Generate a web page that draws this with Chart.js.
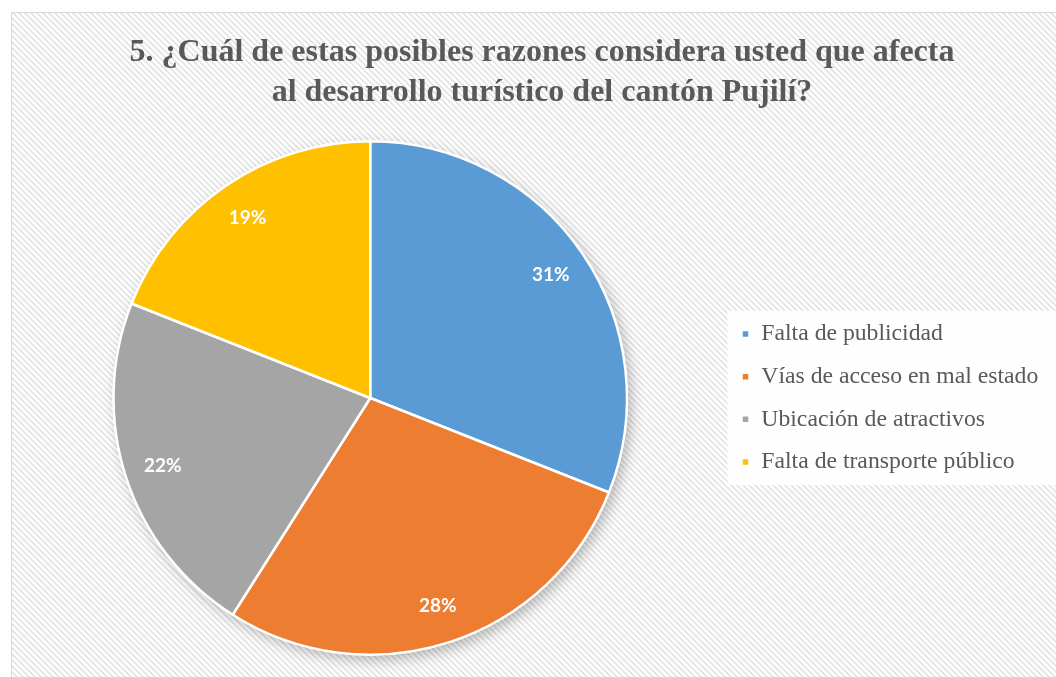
<!DOCTYPE html>
<html>
<head>
<meta charset="utf-8">
<script src="https://cdn.jsdelivr.net/npm/chart.js@4"></script>
<style>
  html, body { margin: 0; padding: 0; overflow: hidden; background: #fff; }
  #wrap { width: 1070px; height: 690px; }
</style>
</head>
<body>
<div id="wrap"><canvas id="pieChart"></canvas></div>
<script>
const categories = ['Falta de publicidad', 'Vías de acceso en mal estado', 'Ubicación de atractivos', 'Falta de transporte público'];
const percentages = [31, 28, 22, 19];
const sliceColors = ['#5B9BD5', '#ED7D31', '#A5A5A5', '#FFC000'];
const titleLines = ['5. ¿Cuál de estas posibles razones considera usted que afecta', 'al desarrollo turístico del cantón Pujilí?'];

function makeHatch(ctx) {
    const tile = document.createElement('canvas');
    tile.width = 6;
    tile.height = 6;
    const t = tile.getContext('2d');
    t.fillStyle = '#ffffff';
    t.fillRect(0, 0, 6, 6);
    t.strokeStyle = '#e3e3e3';
    t.lineWidth = 1.7;
    t.beginPath();
    t.moveTo(-1, -1); t.lineTo(7, 7);
    t.moveTo(-7, -1); t.lineTo(1, 7);
    t.moveTo(5, -1); t.lineTo(13, 7);
    t.stroke();
    return ctx.createPattern(tile, 'repeat');
}

// background hatch, border, legend box, shadow and slice labels
const backgroundPlugin = {
    id: 'backgroundPlugin',
    beforeDraw(chart) {
        const ctx = chart.ctx;
        ctx.save();
        ctx.fillStyle = makeHatch(ctx);
        ctx.fillRect(11, 12, chart.width, chart.height);
        ctx.strokeStyle = '#d9d9d9';
        ctx.lineWidth = 1;
        ctx.strokeRect(11.5, 12.5, chart.width, chart.height);

        const boxes = chart.legend.legendHitBoxes;
        if (boxes && boxes.length) {
            const first = boxes[0];
            const last = boxes[boxes.length - 1];
            const top = first.top - 11;
            const bottom = last.top + last.height + 11;
            ctx.fillStyle = 'rgba(255,255,255,0.92)';
            ctx.fillRect(first.left - 14, top, chart.width, bottom - top);
        }
        ctx.restore();
    },
    beforeDatasetsDraw(chart) {
        const arc = chart.getDatasetMeta(0).data[0];
        if (!arc) return;
        const ctx = chart.ctx;
        ctx.save();
        ctx.shadowColor = 'rgba(0,0,0,0.28)';
        ctx.shadowBlur = 14;
        ctx.shadowOffsetX = 4;
        ctx.shadowOffsetY = 5;
        ctx.fillStyle = '#ffffff';
        ctx.beginPath();
        ctx.arc(arc.x, arc.y, arc.outerRadius, 0, Math.PI * 2);
        ctx.fill();
        ctx.restore();
    },
    afterDatasetsDraw(chart) {
        const ctx = chart.ctx;
        const meta = chart.getDatasetMeta(0);
        ctx.save();
        ctx.fillStyle = '#ffffff';
        ctx.font = 'bold 19px Lato, "Open Sans", sans-serif';
        ctx.textAlign = 'center';
        ctx.textBaseline = 'middle';
        meta.data.forEach((arc, i) => {
            const mid = (arc.startAngle + arc.endAngle) / 2;
            const r = arc.outerRadius * 0.85;
            ctx.fillText(percentages[i] + '%', arc.x + Math.cos(mid) * r, arc.y + Math.sin(mid) * r);
        });
        ctx.restore();
    }
};

const ctx = document.getElementById('pieChart').getContext('2d');
new Chart(ctx, {
    type: 'pie',
    data: {
        labels: categories,
        datasets: [{
            data: percentages,
            backgroundColor: sliceColors,
            borderColor: '#ffffff',
            borderWidth: 2.5,
            hoverOffset: 0
        }]
    },
    options: {
        responsive: true,
        maintainAspectRatio: false,
        animation: false,
        layout: {
            padding: { left: 18, top: 12, right: 4, bottom: 34 }
        },
        plugins: {
            title: {
                display: true,
                text: titleLines,
                color: '#595959',
                font: { family: '"Liberation Serif", "Times New Roman", serif', size: 32, weight: 'bold', lineHeight: 1.25 },
                padding: { top: 21, bottom: 27 }
            },
            legend: {
                display: true,
                position: 'right',
                fullSize: false,
                labels: {
                    boxWidth: 8,
                    boxHeight: 8,
                    padding: 19,
                    color: '#595959',
                    font: { family: '"Liberation Serif", "Times New Roman", serif', size: 23.7 },
                    // trailing spaces keep some room right of the longest entry
                    generateLabels(chart) {
                        const items = Chart.controllers.pie.overrides.plugins.legend.labels.generateLabels(chart);
                        items.forEach(item => { item.text = item.text + '\u00a0\u00a0\u00a0'; });
                        return items;
                    }
                }
            },
            tooltip: { enabled: false }
        }
    },
    plugins: [backgroundPlugin]
});
</script>
</body>
</html>
